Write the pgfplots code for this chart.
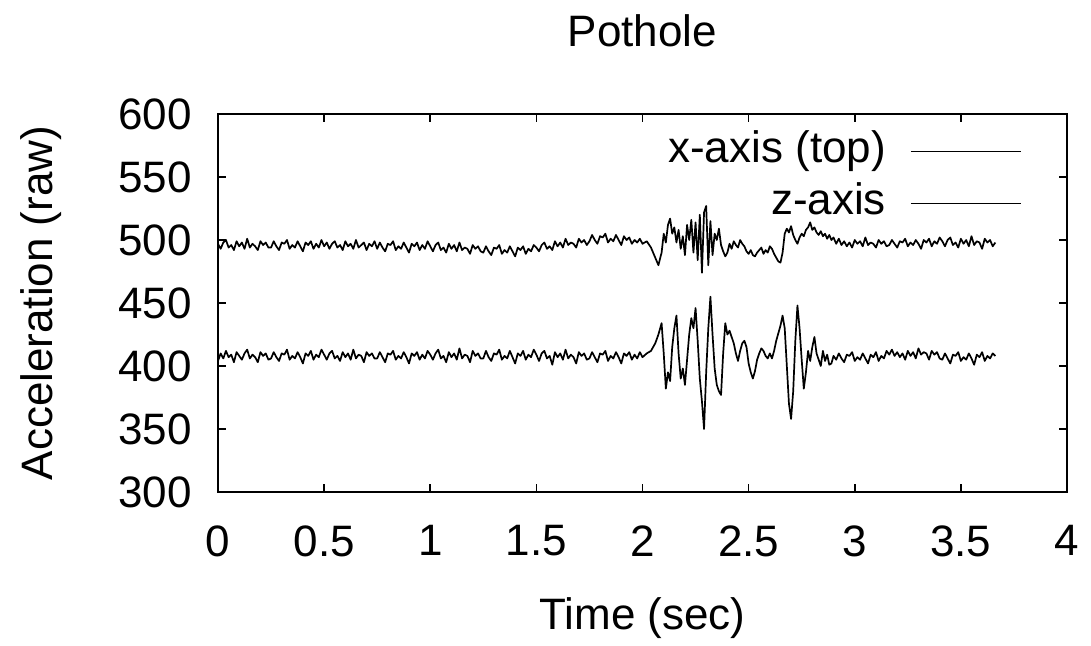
\documentclass[border=0pt]{standalone}
\usepackage{pgfplots}
\pgfplotsset{compat=1.18}
\usepackage{fontspec}
\setmainfont{Liberation Sans}

\begin{document}
\fontsize{22}{26}\selectfont
\begin{tikzpicture}
\begin{axis}[
  name=ax,
  scale only axis,
  width=424.5pt, height=189pt,
  xmin=0, xmax=4, ymin=300, ymax=600,
  xtick={0,0.5,...,4}, ytick={300,350,...,600},
  tick align=inside,
  major tick length=4pt,
  axis line style={line width=1pt},
  every tick/.style={line width=0.8pt, black},
  /pgf/number format/assume math mode=true,
  xticklabel style={anchor=north, inner sep=0pt, yshift=-16.5pt},
  yticklabel style={anchor=east, inner sep=0pt, xshift=-13pt},
  title={Pothole},
  every axis title/.style={at={([yshift=41.5pt]axis description cs:0.5,1)}, anchor=center},
  xlabel={Time (sec)},
  every axis x label/.style={at={([yshift=-63pt]axis description cs:0.5,0)}, anchor=center},
  ylabel={Acceleration (raw)},
  every axis y label/.style={at={([xshift=-88.5pt]axis description cs:0,0.5)}, anchor=center, rotate=90},
  legend plot pos=right,
  legend cell align=right,
  legend image code/.code={\draw[#1] (0pt,0pt) -- (55pt,0pt);},
  legend style={draw=none, fill=none, at={(rel axis cs:1,1)}, anchor=north east,
     xshift=-22.5pt, yshift=-5.5pt, inner sep=0pt,
     nodes={inner sep=2pt, text height=0.75em, text depth=0.25em},
     /tikz/column sep=10pt, /tikz/row sep=0pt},
]
\addplot[black, line width=0.85pt, line join=round] table {
0.0000 497
0.0125 493
0.0250 498
0.0375 500
0.0500 494
0.0625 496
0.0750 492
0.0875 499
0.1000 495
0.1125 498
0.1250 493
0.1375 501
0.1500 494
0.1625 497
0.1750 495
0.1875 492
0.2000 499
0.2125 496
0.2250 498
0.2375 494
0.2500 494
0.2625 499
0.2750 495
0.2875 492
0.3000 498
0.3125 497
0.3250 500
0.3375 493
0.3500 496
0.3625 494
0.3750 499
0.3875 495
0.4000 491
0.4125 498
0.4250 496
0.4375 499
0.4500 493
0.4625 497
0.4750 494
0.4875 500
0.5000 495
0.5125 498
0.5250 493
0.5375 497
0.5500 499
0.5625 494
0.5750 496
0.5875 492
0.6000 499
0.6125 495
0.6250 497
0.6375 493
0.6500 500
0.6625 494
0.6750 496
0.6875 498
0.7000 492
0.7125 497
0.7250 495
0.7375 499
0.7500 493
0.7625 498
0.7750 494
0.7875 491
0.8000 497
0.8125 496
0.8250 499
0.8375 492
0.8500 495
0.8625 493
0.8750 498
0.8875 494
0.9000 490
0.9125 497
0.9250 495
0.9375 498
0.9500 492
0.9625 496
0.9750 493
0.9875 499
1.0000 495
1.0125 491
1.0250 496
1.0375 498
1.0500 492
1.0625 494
1.0750 490
1.0875 497
1.1000 493
1.1125 496
1.1250 491
1.1375 498
1.1500 492
1.1625 494
1.1750 493
1.1875 489
1.2000 496
1.2125 493
1.2250 495
1.2375 491
1.2500 490
1.2625 495
1.2750 491
1.2875 488
1.3000 494
1.3125 493
1.3250 496
1.3375 489
1.3500 492
1.3625 490
1.3750 495
1.3875 491
1.4000 487
1.4125 494
1.4250 492
1.4375 495
1.4500 489
1.4625 493
1.4750 491
1.4875 496
1.5000 494
1.5125 491
1.5250 496
1.5375 498
1.5500 493
1.5625 495
1.5750 492
1.5875 499
1.6000 495
1.6125 498
1.6250 494
1.6375 501
1.6500 496
1.6625 498
1.6750 497
1.6875 494
1.7000 501
1.7125 498
1.7250 500
1.7375 496
1.7500 499
1.7625 504
1.7750 500
1.7875 497
1.8000 503
1.8125 502
1.8250 505
1.8375 498
1.8500 501
1.8625 499
1.8750 504
1.8875 500
1.9000 496
1.9125 503
1.9250 500
1.9375 502
1.9500 497
1.9625 500
1.9750 498
1.9875 501
2.000 497
2.020 499
2.040 494
2.060 486
2.075 480
2.090 490
2.100 505
2.110 498
2.120 512
2.130 517
2.140 505
2.150 510
2.160 498
2.170 508
2.180 493
2.190 503
2.200 488
2.210 512
2.220 500
2.230 516
2.240 490
2.250 514
2.260 484
2.270 520
2.280 474
2.290 522
2.300 527
2.310 480
2.320 515
2.330 488
2.340 505
2.350 500
2.360 509
2.370 496
2.380 491
2.390 487
2.400 490
2.410 497
2.420 493
2.430 499
2.440 496
2.450 494
2.460 500
2.470 497
2.480 495
2.490 491
2.500 489
2.510 492
2.520 488
2.530 487
2.540 490
2.550 492
2.560 494
2.570 489
2.580 492
2.590 490
2.600 495
2.610 493
2.620 489
2.630 486
2.640 483
2.650 482
2.660 490
2.670 505
2.680 509
2.690 506
2.700 511
2.710 504
2.720 500
2.730 497
2.740 502
2.750 505
2.760 503
2.770 508
2.780 510
2.790 514
2.800 508
2.810 510
2.820 506
2.830 504
2.840 507
2.850 503
2.860 505
2.870 501
2.880 504
2.890 500
2.900 502
2.9125 497
2.9250 501
2.9375 496
2.9500 499
2.9625 495
2.9750 498
2.9875 494
3.0000 500
3.0125 497
3.0250 499
3.0375 495
3.0500 502
3.0625 496
3.0750 498
3.0875 497
3.1000 494
3.1125 500
3.1250 497
3.1375 499
3.1500 495
3.1625 496
3.1750 500
3.1875 497
3.2000 494
3.2125 499
3.2250 498
3.2375 501
3.2500 495
3.2625 498
3.2750 496
3.2875 500
3.3000 497
3.3125 493
3.3250 500
3.3375 498
3.3500 501
3.3625 495
3.3750 499
3.3875 497
3.4000 502
3.4125 499
3.4250 495
3.4375 500
3.4500 502
3.4625 496
3.4750 498
3.4875 494
3.5000 501
3.5125 497
3.5250 500
3.5375 495
3.5500 503
3.5625 496
3.5750 499
3.5875 498
3.6000 493
3.6125 501
3.6250 498
3.6375 500
3.6500 495
3.6625 498
};
\addlegendentry{x-axis (top)}
\addplot[black, line width=0.85pt, line join=round] table {
0.0000 404
0.0125 410
0.0250 406
0.0375 412
0.0500 407
0.0625 409
0.0750 403
0.0875 411
0.1000 408
0.1125 405
0.1250 410
0.1375 413
0.1500 406
0.1625 409
0.1750 407
0.1875 403
0.2000 411
0.2125 408
0.2250 410
0.2375 405
0.2500 406
0.2625 411
0.2750 407
0.2875 404
0.3000 410
0.3125 409
0.3250 413
0.3375 405
0.3500 408
0.3625 406
0.3750 411
0.3875 407
0.4000 402
0.4125 410
0.4250 408
0.4375 412
0.4500 405
0.4625 409
0.4750 407
0.4875 413
0.5000 409
0.5125 405
0.5250 410
0.5375 412
0.5500 406
0.5625 408
0.5750 404
0.5875 411
0.6000 407
0.6125 410
0.6250 405
0.6375 413
0.6500 406
0.6625 409
0.6750 408
0.6875 403
0.7000 411
0.7125 408
0.7250 410
0.7375 406
0.7500 406
0.7625 411
0.7750 407
0.7875 403
0.8000 410
0.8125 409
0.8250 412
0.8375 405
0.8500 408
0.8625 406
0.8750 411
0.8875 407
0.9000 402
0.9125 410
0.9250 408
0.9375 411
0.9500 405
0.9625 409
0.9750 406
0.9875 412
1.0000 409
1.0125 405
1.0250 410
1.0375 413
1.0500 406
1.0625 408
1.0750 403
1.0875 411
1.1000 407
1.1125 410
1.1250 405
1.1375 414
1.1500 406
1.1625 409
1.1750 408
1.1875 403
1.2000 412
1.2125 408
1.2250 410
1.2375 406
1.2500 406
1.2625 412
1.2750 407
1.2875 404
1.3000 410
1.3125 409
1.3250 413
1.3375 405
1.3500 408
1.3625 406
1.3750 412
1.3875 407
1.4000 402
1.4125 410
1.4250 408
1.4375 412
1.4500 405
1.4625 409
1.4750 407
1.4875 413
1.5000 409
1.5125 404
1.5250 410
1.5375 412
1.5500 406
1.5625 408
1.5750 401
1.5875 411
1.6000 407
1.6125 410
1.6250 405
1.6375 413
1.6500 406
1.6625 409
1.6750 407
1.6875 402
1.7000 411
1.7125 408
1.7250 410
1.7375 405
1.7500 406
1.7625 411
1.7750 407
1.7875 403
1.8000 410
1.8125 409
1.8250 412
1.8375 404
1.8500 408
1.8625 406
1.8750 411
1.8875 407
1.9000 402
1.9125 410
1.9250 408
1.9375 411
1.9500 405
1.9625 409
1.9750 406
1.9875 411
2.000 407
2.020 410
2.040 412
2.060 418
2.075 425
2.090 434
2.100 410
2.110 382
2.120 395
2.130 388
2.140 415
2.150 430
2.160 440
2.170 410
2.180 390
2.190 398
2.200 385
2.210 405
2.220 425
2.230 438
2.240 430
2.250 446
2.260 420
2.270 390
2.280 372
2.290 350
2.300 395
2.310 430
2.320 455
2.330 425
2.340 398
2.350 385
2.360 380
2.370 377
2.380 410
2.390 434
2.400 425
2.410 428
2.420 423
2.430 418
2.440 410
2.450 404
2.460 412
2.470 418
2.480 420
2.490 415
2.500 402
2.510 395
2.520 390
2.530 396
2.540 405
2.550 410
2.560 414
2.570 412
2.580 408
2.590 406
2.600 410
2.610 406
2.620 412
2.630 420
2.640 426
2.650 432
2.660 440
2.670 430
2.680 400
2.690 370
2.700 358
2.710 380
2.720 420
2.730 448
2.740 430
2.750 405
2.760 382
2.770 395
2.780 412
2.790 404
2.800 415
2.810 423
2.820 410
2.830 405
2.840 400
2.850 412
2.860 404
2.870 409
2.880 401
2.890 402
2.900 408
2.9125 405
2.9250 410
2.9375 406
2.9500 403
2.9625 409
2.9750 408
2.9875 411
3.0000 404
3.0125 407
3.0250 405
3.0375 410
3.0500 406
3.0625 402
3.0750 409
3.0875 407
3.1000 411
3.1125 404
3.1250 408
3.1375 406
3.1500 412
3.1625 409
3.1750 413
3.1875 408
3.2000 411
3.2125 407
3.2250 410
3.2375 405
3.2500 412
3.2625 408
3.2750 411
3.2875 406
3.3000 414
3.3125 409
3.3250 411
3.3375 410
3.3500 405
3.3625 412
3.3750 409
3.3875 411
3.4000 406
3.4125 405
3.4250 410
3.4375 406
3.4500 402
3.4625 409
3.4750 408
3.4875 411
3.5000 404
3.5125 407
3.5250 405
3.5375 410
3.5500 406
3.5625 401
3.5750 409
3.5875 407
3.6000 411
3.6125 404
3.6250 408
3.6375 406
3.6500 410
3.6625 408
};
\addlegendentry{z-axis}
\end{axis}
\pgfresetboundingbox
\useasboundingbox ([shift={(-109pt,-77pt)}]ax.south west) rectangle ([shift={(12pt,57pt)}]ax.north east);
\end{tikzpicture}
\end{document}
